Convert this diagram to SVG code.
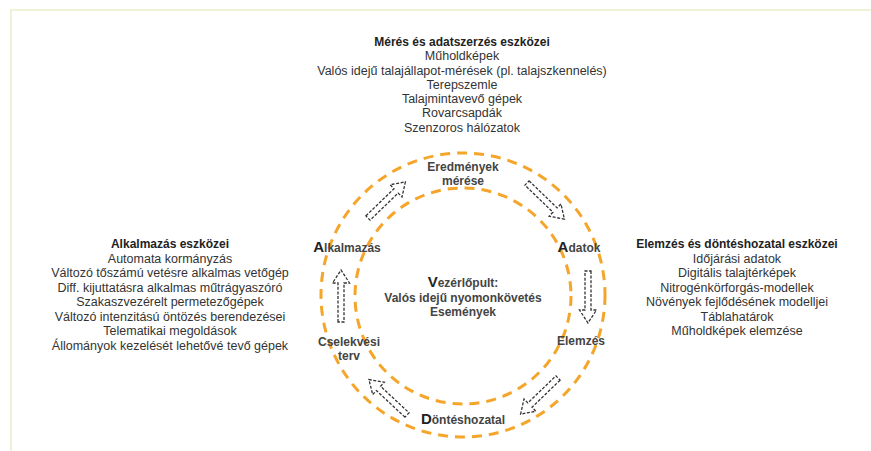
<svg xmlns="http://www.w3.org/2000/svg" xmlns:xlink="http://www.w3.org/1999/xlink" width="871" height="451" viewBox="0 0 871 451">
<style>
text{font-family:"Liberation Sans",Arial,sans-serif;fill:#333;text-anchor:middle}
.list{font-size:12.5px}
.head{font-size:12px;font-weight:bold;fill:#222}
.lbl{font-size:12px;font-weight:bold;fill:#444}
.big{font-size:15px;fill:#222}
.ring{fill:none;stroke:#f5a52a;stroke-width:3;stroke-dasharray:10 7}
.arrow{fill:#fff;stroke:#333;stroke-width:1.3;stroke-dasharray:3 1.6;stroke-linejoin:miter}
</style>
<defs>
<path id="arr" class="arrow" d="M0,-3 L39,-3 L39,-8.5 L52,0 L39,8.5 L39,3 L0,3 Z"/>
</defs>
<rect width="871" height="451" fill="#fff"/>
<path d="M11,451 V10 H871" fill="none" stroke="#eef2d6" stroke-width="2"/>

<g id="rings">
<circle class="ring" cx="463" cy="295" r="142"/>
<circle class="ring" cx="463" cy="296" r="108"/>
</g>

<g id="connectors">
<use xlink:href="#arr" transform="translate(368,218) rotate(-44)"/>
<use xlink:href="#arr" transform="translate(527,183) rotate(44)"/>
<use xlink:href="#arr" transform="translate(588,271) rotate(90)"/>
<use xlink:href="#arr" transform="translate(558,378) rotate(136)"/>
<use xlink:href="#arr" transform="translate(407,415) rotate(223)"/>
<use xlink:href="#arr" transform="translate(341,322) rotate(-90)"/>
</g>

<g id="top-tools">
<text class="head" x="462" y="46">Mérés és adatszerzés eszközei</text>
<text class="list" x="462" y="60">Műholdképek</text>
<text class="list" x="462" y="75">Valós idejű talajállapot-mérések (pl. talajszkennelés)</text>
<text class="list" x="462" y="89">Terepszemle</text>
<text class="list" x="462" y="103">Talajmintavevő gépek</text>
<text class="list" x="462" y="117">Rovarcsapdák</text>
<text class="list" x="462" y="132">Szenzoros hálózatok</text>
</g>

<g id="left-tools">
<text class="head" x="170" y="248">Alkalmazás eszközei</text>
<text class="list" x="170" y="263">Automata kormányzás</text>
<text class="list" x="170" y="277">Változó tőszámú vetésre alkalmas vetőgép</text>
<text class="list" x="170" y="292">Diff. kijuttatásra alkalmas műtrágyaszóró</text>
<text class="list" x="170" y="306">Szakaszvezérelt permetezőgépek</text>
<text class="list" x="170" y="321">Változó intenzitású öntözés berendezései</text>
<text class="list" x="170" y="335">Telematikai megoldások</text>
<text class="list" x="170" y="350">Állományok kezelését lehetővé tevő gépek</text>
</g>

<g id="right-tools">
<text class="head" x="737" y="248">Elemzés és döntéshozatal eszközei</text>
<text class="list" x="737" y="263">Időjárási adatok</text>
<text class="list" x="737" y="277">Digitális talajtérképek</text>
<text class="list" x="737" y="292">Nitrogénkörforgás-modellek</text>
<text class="list" x="737" y="306">Növények fejlődésének modelljei</text>
<text class="list" x="737" y="321">Táblahatárok</text>
<text class="list" x="737" y="335">Műholdképek elemzése</text>
</g>

<g id="node-eredmenyek">
<text class="lbl" x="463" y="171">Eredmények</text>
<text class="lbl" x="463" y="185">mérése</text>
</g>
<g id="node-adatok">
<text class="lbl" x="579" y="252"><tspan class="big">A</tspan>datok</text>
</g>
<g id="node-elemzes">
<text class="lbl" x="581" y="345">Elemzés</text>
</g>
<g id="node-donteshozatal">
<text class="lbl" x="463" y="424"><tspan class="big">D</tspan>öntéshozatal</text>
</g>
<g id="node-cselekvesi">
<text class="lbl" x="349" y="346">Cselekvési</text>
<text class="lbl" x="349" y="360">terv</text>
</g>
<g id="node-alkalmazas">
<text class="lbl" x="347" y="252"><tspan class="big">A</tspan>lkalmazás</text>
</g>
<g id="node-center">
<text class="lbl" x="463" y="287"><tspan class="big">V</tspan>ezérlőpult:</text>
<text class="lbl" x="463" y="302">Valós idejű nyomonkövetés</text>
<text class="lbl" x="463" y="316">Események</text>
</g>
</svg>
